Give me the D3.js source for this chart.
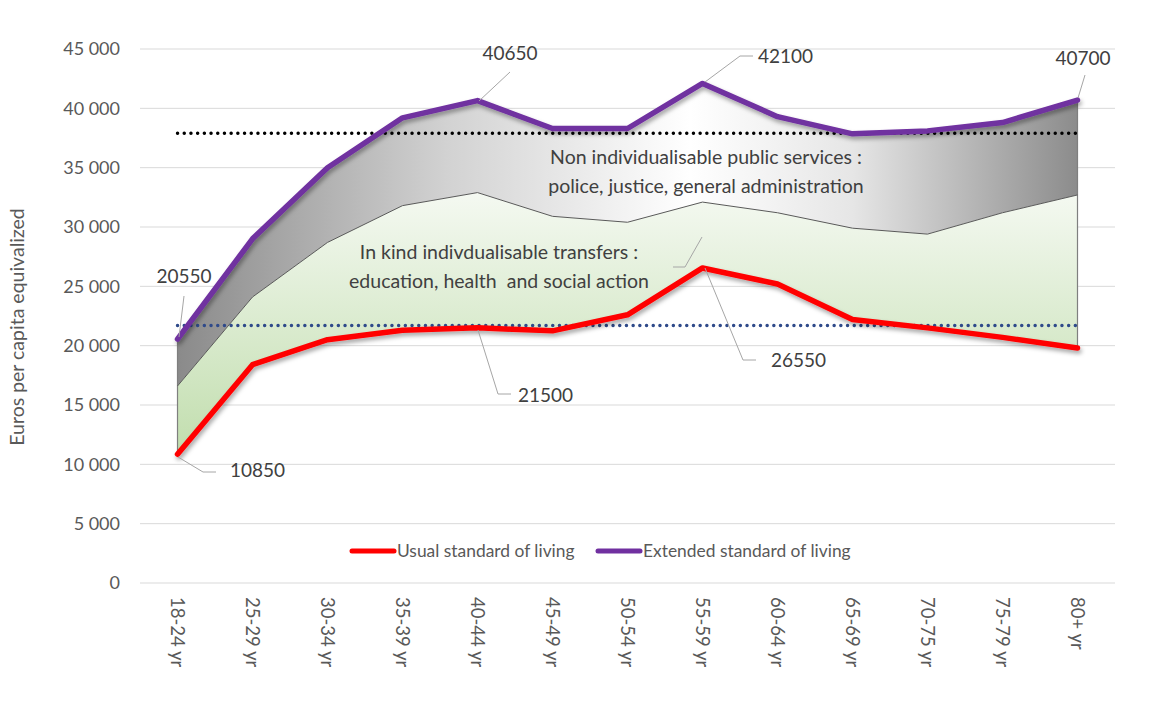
<!DOCTYPE html>
<html><head><meta charset="utf-8">
<script src="https://cdn.jsdelivr.net/npm/d3@7"></script>
<style>
body{margin:0;background:#fff;}
svg{display:block;font-family:Lato,"Liberation Sans",sans-serif;}
</style></head>
<body><svg id="chart" width="1167" height="706"></svg>
<script>
const categories = ["18-24 yr","25-29 yr","30-34 yr","35-39 yr","40-44 yr","45-49 yr","50-54 yr","55-59 yr","60-64 yr","65-69 yr","70-75 yr","75-79 yr","80+ yr"];
const usual    = [10850,18400,20500,21300,21500,21250,22600,26550,25200,22200,21500,20700,19800];
const inKindTop= [16600,24100,28700,31800,32900,30900,30400,32100,31200,29900,29400,31200,32700];
const extended = [20550,29000,35000,39200,40650,38300,38300,42100,39300,37850,38100,38800,40700];
const refHigh = 37900;
const refLow = 21700;
const yTicks = [0,5000,10000,15000,20000,25000,30000,35000,40000,45000];
const seriesNames = ["Usual standard of living","Extended standard of living"];
const areaLabels = [["Non individualisable public services :","police, justice, general administration"],["In kind indivdualisable transfers :","education, health  and social action"]];

const svg = d3.select("#chart");
const x = d3.scaleBand().domain(categories).range([140,1115]);
const cx = c => x(c) + x.bandwidth()/2;
const y = d3.scaleLinear().domain([0,45000]).range([583,49]);
const txt = "#595959";

const defs = svg.append("defs");
const gg = defs.append("linearGradient").attr("id","gray").attr("gradientUnits","userSpaceOnUse")
  .attr("x1",177).attr("x2",1077).attr("y1",0).attr("y2",0);
gg.append("stop").attr("offset",0).attr("stop-color","#8a8a8a");
gg.append("stop").attr("offset",0.3).attr("stop-color","#d2d2d2");
gg.append("stop").attr("offset",0.57).attr("stop-color","#ffffff");
gg.append("stop").attr("offset",0.75).attr("stop-color","#e6e6e6");
gg.append("stop").attr("offset",1).attr("stop-color","#8c8c8c");
const gr = defs.append("linearGradient").attr("id","green").attr("gradientUnits","userSpaceOnUse")
  .attr("x1",0).attr("x2",0).attr("y1",190).attr("y2",460);
gr.append("stop").attr("offset",0).attr("stop-color","#f5f9f2");
gr.append("stop").attr("offset",1).attr("stop-color","#c0ddac");
const f = defs.append("filter").attr("id","sh").attr("x","-10%").attr("y","-10%").attr("width","120%").attr("height","130%");
f.append("feDropShadow").attr("dx",1.5).attr("dy",3).attr("stdDeviation",2).attr("flood-color","#000").attr("flood-opacity",0.35);

// gridlines
svg.append("g").selectAll("line").data(yTicks).join("line")
  .attr("x1",140).attr("x2",1115).attr("y1",d=>y(d)).attr("y2",d=>y(d))
  .attr("stroke","#d9d9d9").attr("stroke-width",1);

// y axis labels
const yAxis = d3.axisLeft(y).tickValues(yTicks).tickSize(0).tickPadding(0)
  .tickFormat(d => d3.format(",")(d).replace(/,/g," "));
const ya = svg.append("g").attr("transform","translate(120,0)").call(yAxis);
ya.select(".domain").remove();
ya.selectAll("text").attr("fill",txt).attr("font-size",18).attr("font-family","Lato,sans-serif");

// x axis labels
const xAxis = d3.axisBottom(x).tickSize(0).tickPadding(0);
const xa = svg.append("g").attr("transform","translate(0,597)").call(xAxis);
xa.select(".domain").remove();
xa.selectAll("text").attr("fill",txt).attr("font-size",18.5).attr("font-family","Lato,sans-serif")
  .attr("transform","rotate(90)").attr("text-anchor","start").attr("dy","0.35em").attr("x",0).attr("y",0);

// y title
svg.append("text").attr("transform","translate(24,327) rotate(-90)").attr("text-anchor","middle")
  .attr("fill",txt).attr("font-size",19.5).text("Euros per capita equivalized");

const idx = d3.range(categories.length);
// gray area
svg.append("path").datum(idx).attr("fill","url(#gray)")
  .attr("d", d3.area().x(i=>cx(categories[i])).y0(i=>y(inKindTop[i])).y1(i=>y(extended[i])));
// green area
svg.append("path").datum(idx).attr("fill","url(#green)")
  .attr("d", d3.area().x(i=>cx(categories[i])).y0(i=>y(usual[i])).y1(i=>y(inKindTop[i])));
// edge lines
[0, categories.length-1].forEach(i=>{
  svg.append("line").attr("x1",cx(categories[i])).attr("x2",cx(categories[i]))
    .attr("y1",y(extended[i])).attr("y2",y(usual[i])).attr("stroke","#7f7f7f").attr("stroke-width",1.2);
});
// middle line
svg.append("path").datum(idx).attr("fill","none").attr("stroke","#595959").attr("stroke-width",1)
  .attr("d", d3.line().x(i=>cx(categories[i])).y(i=>y(inKindTop[i])));

// reference dotted lines
const x0 = cx(categories[0]), x1 = cx(categories[categories.length-1]);
svg.append("line").attr("x1",x0).attr("x2",x1).attr("y1",y(refHigh)).attr("y2",y(refHigh))
  .attr("stroke","#000").attr("stroke-width",3.4).attr("stroke-dasharray","0.1 6.6").attr("stroke-linecap","round");
svg.append("line").attr("x1",x0).attr("x2",x1).attr("y1",y(refLow)).attr("y2",y(refLow))
  .attr("stroke","#2f4a8a").attr("stroke-width",3.4).attr("stroke-dasharray","0.1 6.6").attr("stroke-linecap","round");

// series lines
const line = arr => d3.line().x(i=>cx(categories[i])).y(i=>y(arr[i]));
svg.append("path").datum(idx).attr("fill","none").attr("stroke","#ff0000").attr("stroke-width",5.5)
  .attr("stroke-linejoin","round").attr("stroke-linecap","round").attr("filter","url(#sh)").attr("d",line(usual));
svg.append("path").datum(idx).attr("fill","none").attr("stroke","#7030a0").attr("stroke-width",5.5)
  .attr("stroke-linejoin","round").attr("stroke-linecap","round").attr("filter","url(#sh)").attr("d",line(extended));

// area labels
const lab = (lines, xc, y0) => {
  lines.forEach((t,k)=> svg.append("text").attr("x",xc).attr("y",y0+k*29).attr("text-anchor","middle")
    .style("white-space","pre").attr("fill","#404040").attr("font-size",19.5).text(t));
};
lab(areaLabels[0], 706, 164);
lab(areaLabels[1], 499, 259);
svg.append("path").attr("d","M702,237 L685,267 L673,267").attr("fill","none").attr("stroke","#a6a6a6");

// data labels with leaders
const dl = [
  {arr:extended,i:0,tx:184,ty:283,anchor:"middle",path:[[184,296],[179,337]]},
  {arr:usual,i:0,tx:230,ty:477,anchor:"start",path:[[178,457],[203,472],[216,472]]},
  {arr:usual,i:4,tx:518,ty:402,anchor:"start",path:[[478,330],[498,394],[511,394]]},
  {arr:usual,i:7,tx:771,ty:367,anchor:"start",path:[[705,268],[743,360],[756,360]]},
  {arr:extended,i:4,tx:510,ty:60,anchor:"middle",path:[[510,72],[479,101]]},
  {arr:extended,i:7,tx:758,ty:63,anchor:"start",path:[[705,82],[740,56],[753,56]]},
  {arr:extended,i:12,tx:1083,ty:65,anchor:"middle",path:[[1085,75],[1078,98]]}
];
dl.forEach(d=>{
  svg.append("path").attr("d",d3.line()(d.path)).attr("fill","none").attr("stroke","#a6a6a6").attr("stroke-width",1);
  svg.append("text").attr("x",d.tx).attr("y",d.ty).attr("text-anchor",d.anchor).attr("fill","#404040")
    .attr("font-size",19).text(d.arr[d.i]);
});

// legend
const lg = svg.append("g");
const legColors = ["#ff0000","#7030a0"];
const legX = [352,598];
seriesNames.forEach((n,k)=>{
  lg.append("line").attr("x1",legX[k]).attr("x2",legX[k]+42).attr("y1",551).attr("y2",551)
    .attr("stroke",legColors[k]).attr("stroke-width",5).attr("stroke-linecap","round");
  lg.append("text").attr("x",legX[k]+45).attr("y",557).attr("fill",txt).attr("font-size",17.4).text(n);
});
</script></body></html>
